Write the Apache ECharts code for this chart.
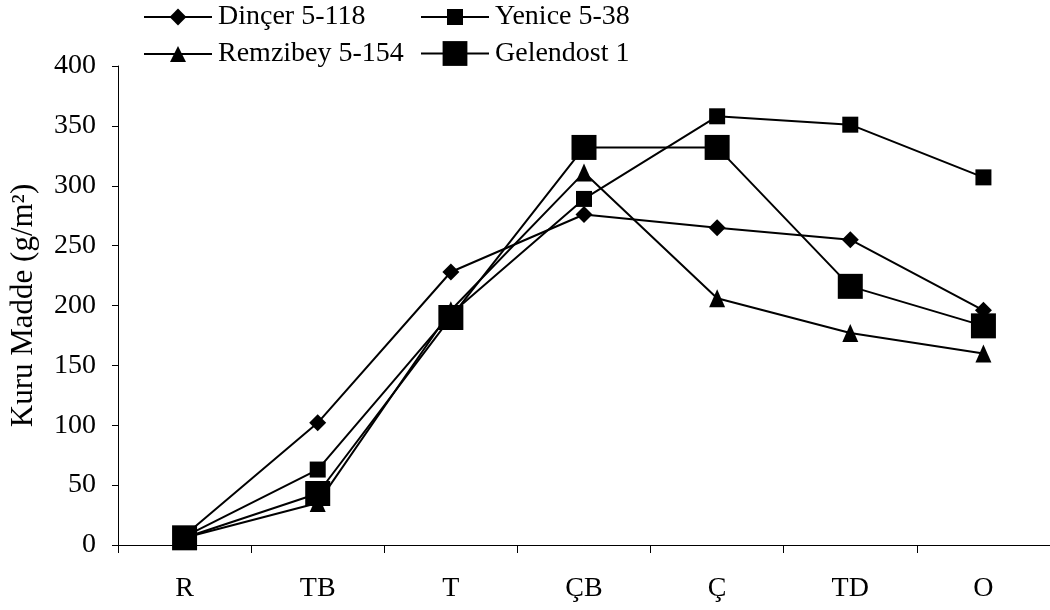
<!DOCTYPE html>
<html>
<head>
<meta charset="utf-8">
<script src="https://cdn.jsdelivr.net/npm/echarts@6/dist/echarts.min.js"></script>
<style>
  html, body { margin: 0; padding: 0; background: #fff; }
  #myChart { width: 1050px; height: 610px; }
</style>
</head>
<body>
<div id="myChart"></div>
<script>
// gelişim dönemleri
var stages = ['R', 'TB', 'T', 'ÇB', 'Ç', 'TD', 'O'];
var yTicks = [0, 50, 100, 150, 200, 250, 300, 350, 400];

var dincer = [8, 102, 228, 276, 265, 255, 196];
var yenice = [7, 63, 193, 289, 358, 351, 307];
var remzibey = [6, 35, 196, 311, 206, 177, 160];
var gelendost = [6, 43, 190, 332, 332, 216, 183];

var font = '"Liberation Serif", "Times New Roman", serif';

function makeSeries(name, data, symbol, size) {
  return {
    name: name,
    type: 'line',
    data: data,
    symbol: symbol,
    symbolSize: size,
    showAllSymbol: true,
    lineStyle: { color: '#000', width: 2 },
    itemStyle: { color: '#000' }
  };
}

// tek satırlık lejant, her seri için ayrı
function makeLegend(name, left, centerY, ih) {
  var h = Math.max(ih, 30);
  return {
    data: [name],
    left: left,
    top: centerY - h / 2,
    padding: 0,
    itemWidth: 68,
    itemHeight: ih,
    itemGap: 0,
    textStyle: { fontFamily: font, fontSize: 28, color: '#000', lineHeight: 30, padding: [0, 0, 0, 1] }
  };
}

var myChart = echarts.init(document.getElementById('myChart'));
myChart.setOption({
  animation: false,
  backgroundColor: '#fff',
  legend: [
    makeLegend('Dinçer 5-118', 143, 17, 21),
    makeLegend('Yenice 5-38', 420, 17, 20),
    makeLegend('Remzibey 5-154', 143, 54, 20),
    makeLegend('Gelendost 1', 420, 54, 31)
  ],
  grid: { left: 118, top: 66, width: 935, height: 479 },
  xAxis: {
    type: 'category',
    data: stages,
    boundaryGap: true,
    axisLine: { lineStyle: { color: '#000', width: 1 } },
    axisTick: { show: true, length: 8, lineStyle: { color: '#000' } },
    axisLabel: { fontFamily: font, fontSize: 28, color: '#000', margin: 30 }
  },
  yAxis: {
    type: 'value',
    min: yTicks[0],
    max: yTicks[yTicks.length - 1],
    interval: 50,
    name: 'Kuru Madde (g/m²)',
    nameLocation: 'middle',
    nameGap: 79,
    nameTextStyle: { fontFamily: font, fontSize: 31, color: '#000' },
    splitLine: { show: false },
    axisLine: { show: true, lineStyle: { color: '#000', width: 1 } },
    axisTick: { show: true, length: 6, lineStyle: { color: '#000' } },
    axisLabel: { fontFamily: font, fontSize: 28, color: '#000', margin: 22 }
  },
  series: [
    makeSeries('Dinçer 5-118', dincer, 'diamond', 17),
    makeSeries('Yenice 5-38', yenice, 'rect', 16),
    makeSeries('Remzibey 5-154', remzibey, 'triangle', [16, 18]),
    makeSeries('Gelendost 1', gelendost, 'rect', 25)
  ]
});
</script>
</body>
</html>
